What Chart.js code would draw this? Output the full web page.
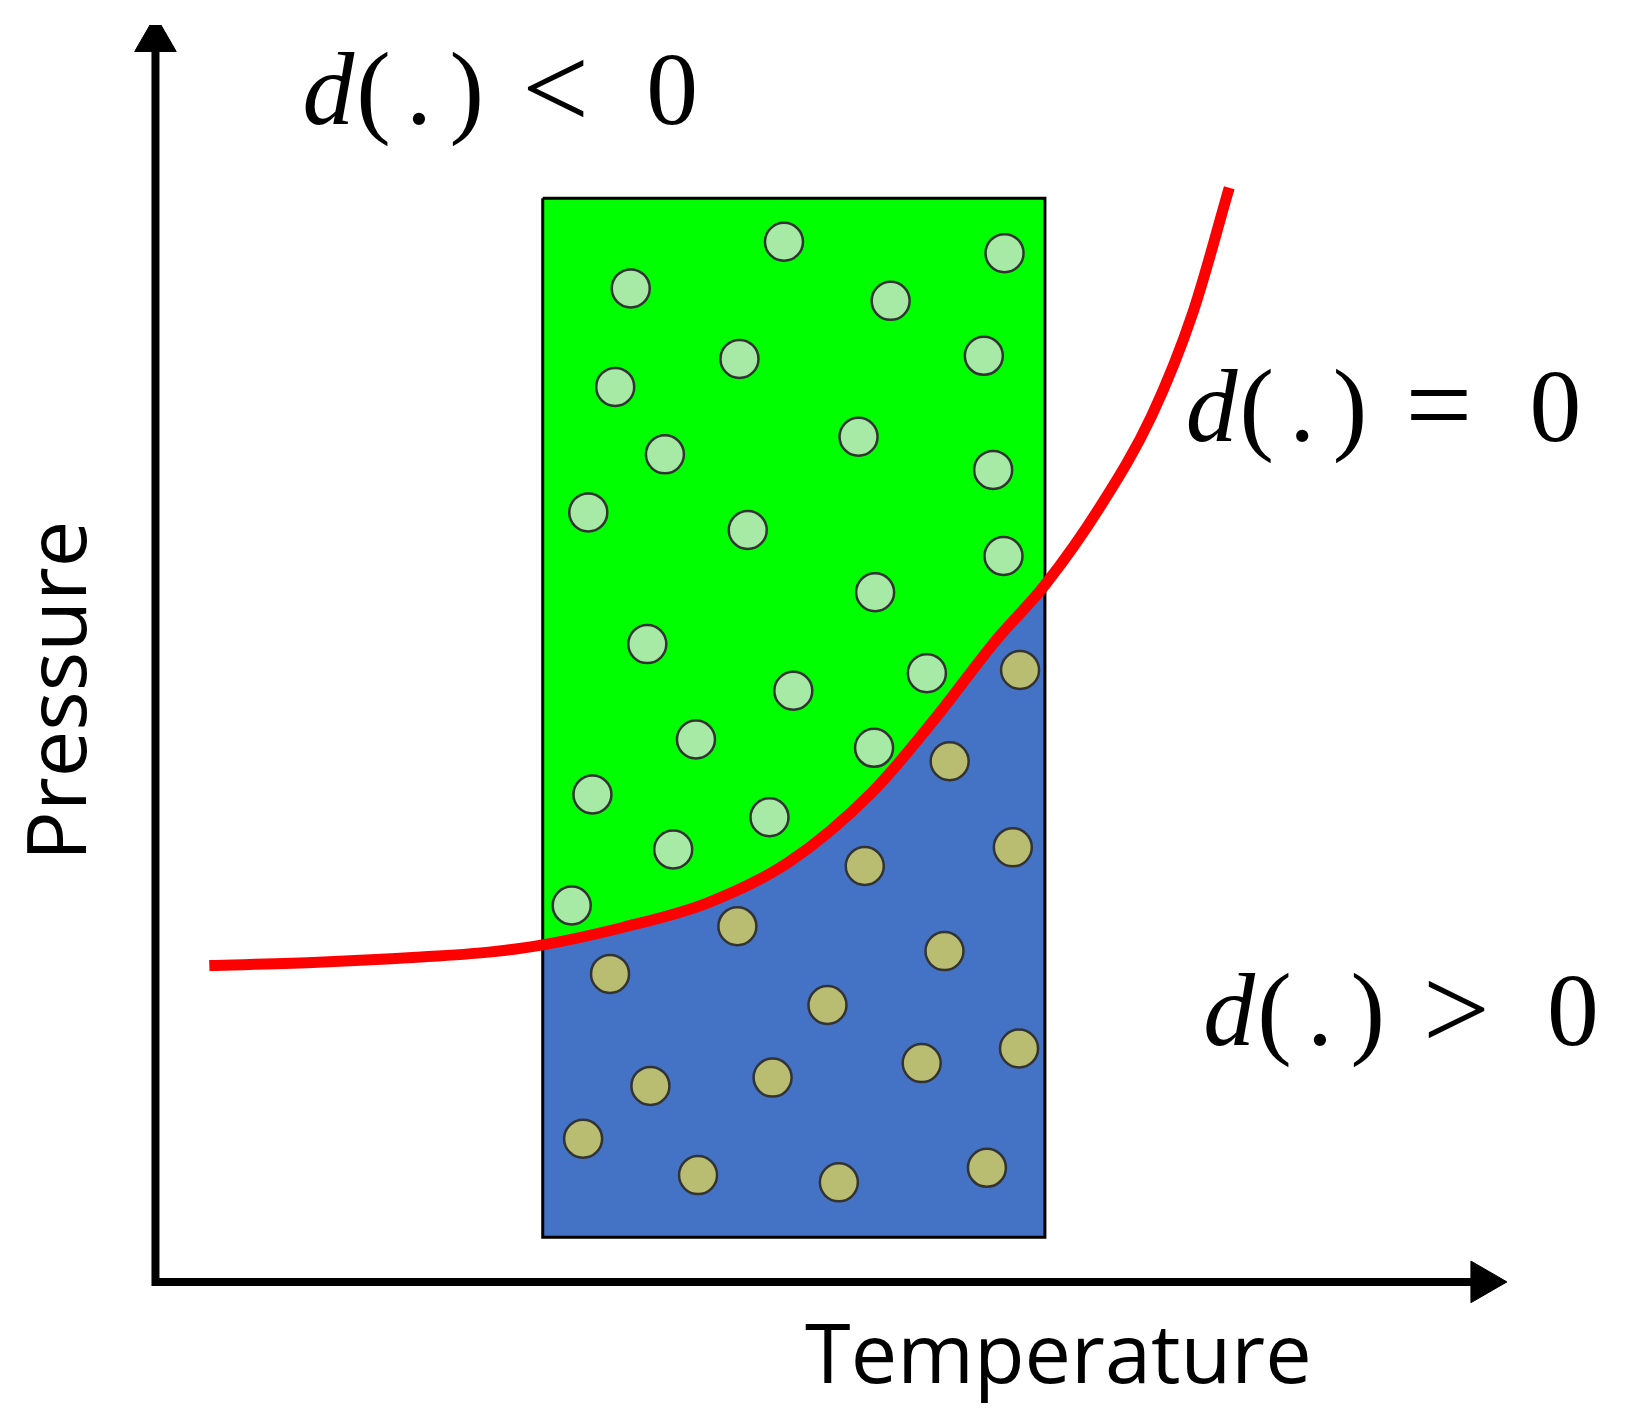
<!DOCTYPE html>
<html><head><meta charset="utf-8">
<script src="https://cdn.jsdelivr.net/npm/chart.js@4.4.0/dist/chart.umd.min.js"></script>
<style>html,body{margin:0;padding:0;background:#fff}#w{width:1627px;height:1422px}</style>
</head><body><div id="w"><canvas id="c"></canvas></div>
<script>
const boxX = [522, 560, 600, 640, 680, 720, 760, 800, 840, 870, 900, 930, 960, 985, 1007];
const boxTop = 190, boxBottom = 1192;
const curveInBox = [910, 903, 893, 884, 870, 853, 830, 800, 763, 730, 693, 655, 616, 590, 563];
const curveX = [200, 300, 400, 470, 522, 600, 680, 760, 840, 900, 960, 1007, 1060, 1110, 1150, 1185];
const curveY = [930, 927, 922, 917, 910, 893, 870, 830, 763, 693, 616, 563, 488, 400, 300, 180];
const greenDots = [[755,232],[968,243],[607,277],[858,289],[712,345],[948,342],[592,372],[827,420],[640,437],[957,452],[566,493],[720,510],[967,535],[843,570],[623,620],[893,648],[764,665],[670,712],[842,720],[570,765],[741,787],[648,818],[550,872]];
const oliveDots = [[983,645],[915,733],[976,816],[833,834],[710,892],[910,916],[587,938],[797,968],[626,1046],[744,1038],[888,1024],[982,1010],[561,1097],[672,1132],[808,1139],[951,1125]];
const axisOrigin = [148, 1235], axisTopY = 22, axisRightX = 1445;
const labels = [
  {op:'<', x:290, y:92},
  {op:'=', x:1143, y:398},
  {op:'>', x:1160, y:980}
];
const xTitle = {t:'Temperature', x:1020, y:1310};
const yTitle = {t:'Pressure', x:58, y:665};

const pts = (xs, ys) => xs.map((x,i)=>({x, y: Array.isArray(ys)? ys[i] : ys}));
const textPlugin = {
  id:'txt',
  afterDatasetsDraw(ch){
    const c = ch.ctx, sx = ch.scales.x, sy = ch.scales.y;
    const k = (sx.getPixelForValue(1000)-sx.getPixelForValue(0))/1000;
    c.save(); c.fillStyle='#000'; c.textBaseline='middle'; c.textAlign='left';
    labels.forEach(l=>{
      const px = v => sx.getPixelForValue(l.x+v), py = sy.getPixelForValue(l.y);
      c.font='italic '+(100*k)+'px "Liberation Serif"';
      c.fillText('d', px(0), py);
      c.font=(100*k)+'px "Liberation Serif"';
      c.fillText('(', px(52), py); c.fillText('.', px(100), py); c.fillText(')', px(142), py);
      c.font=(115*k)+'px "Liberation Serif"';
      c.fillText(l.op, px(212), py);
      c.font=(100*k)+'px "Liberation Serif"';
      c.fillText('0', px(332), py);
    });
    c.font=(80*k)+'px "Open Sans"'; c.textAlign='center';
    c.fillText(xTitle.t, sx.getPixelForValue(xTitle.x), sy.getPixelForValue(xTitle.y));
    c.translate(sx.getPixelForValue(yTitle.x), sy.getPixelForValue(yTitle.y));
    c.rotate(-Math.PI/2); c.fillText(yTitle.t, 0, 0);
    c.restore();
  }
};
new Chart(document.getElementById('c'), {
  type:'scatter',
  data:{datasets:[
    {data: pts(boxX, boxBottom), showLine:true, borderWidth:0, pointRadius:0, fill:false, order:10},
    {data: pts(boxX, curveInBox), showLine:true, borderWidth:0, pointRadius:0, fill:0, backgroundColor:'#4472c4', cubicInterpolationMode:'monotone', order:9},
    {data: pts(boxX, boxTop), showLine:true, borderWidth:0, pointRadius:0, fill:1, backgroundColor:'#00ff00', order:8},
    {data: [{x:522,y:190},{x:1007,y:190},{x:1007,y:1192},{x:522,y:1192},{x:522,y:190}], showLine:true, borderColor:'#000', borderWidth:3, pointRadius:0, fill:false, order:5},
    {data: greenDots.map(([x,y])=>({x,y})), pointRadius:19, pointBackgroundColor:'#a6eaa6', pointBorderColor:'#333', pointBorderWidth:2.5, order:3},
    {data: oliveDots.map(([x,y])=>({x,y})), pointRadius:19, pointBackgroundColor:'#b8bd72', pointBorderColor:'#333', pointBorderWidth:2.5, order:3},
    {data: pts(curveX, curveY), showLine:true, borderColor:'#ff0000', borderWidth:11, pointRadius:0, cubicInterpolationMode:'monotone', fill:false, order:2},
    {data: [{x:axisOrigin[0],y:axisTopY+20},{x:axisOrigin[0],y:axisOrigin[1]},{x:axisRightX-20,y:axisOrigin[1]}], showLine:true, borderColor:'#000', borderWidth:8, pointRadius:0, fill:false, borderJoinStyle:'miter', order:1},
    {data: [{x:axisOrigin[0],y:axisTopY+15}], pointStyle:'triangle', pointRadius:24, pointRotation:0, pointBackgroundColor:'#000', pointBorderColor:'#000', order:0},
    {data: [{x:axisRightX-15,y:axisOrigin[1]}], pointStyle:'triangle', pointRadius:24, pointRotation:90, pointBackgroundColor:'#000', pointBorderColor:'#000', order:0}
  ]},
  options:{
    responsive:true, maintainAspectRatio:false, animation:false,
    layout:{padding:0},
    plugins:{legend:{display:false}, tooltip:{enabled:false}},
    scales:{
      x:{type:'linear', min:22, max:1545, display:false},
      y:{type:'linear', min:23, max:1346, reverse:true, display:false}
    }
  },
  plugins:[textPlugin]
});
</script></body></html>
